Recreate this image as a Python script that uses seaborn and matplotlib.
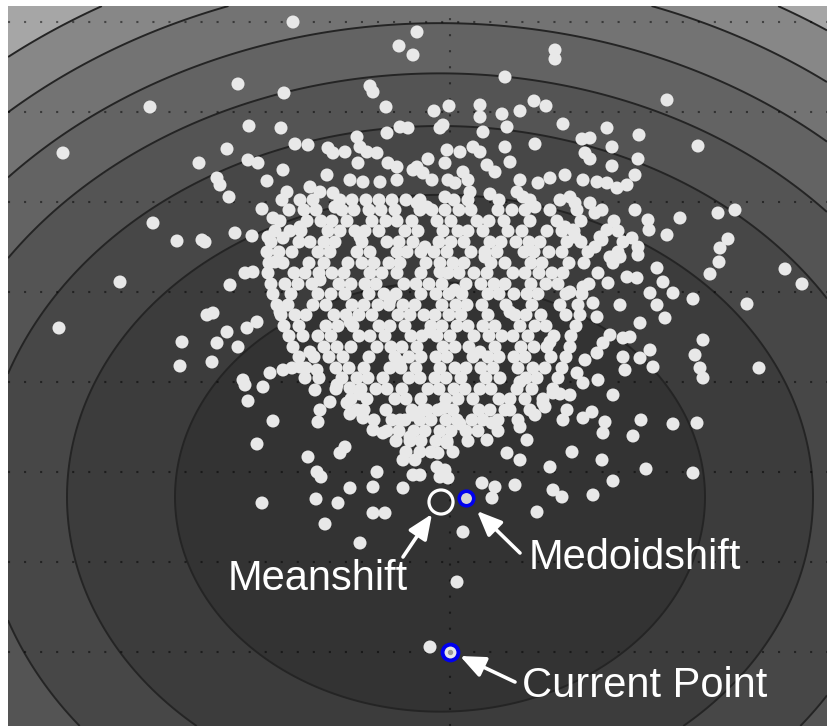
import numpy as np
import matplotlib
matplotlib.use("Agg")
import matplotlib.pyplot as plt
import seaborn as sns
import pandas as pd

# sample positions, measured from the current point (x right, y down)
pts_x = [-157, -33, -51, -37, -212, -166, -80, -77, -300, -64, -201, -169, -50, -42, -63, -93,
         -387, -223, -155, -142, -122, -117, -105, -90, -83, -73, -92, -62, -53, -251, -202, -192,
         -167, -37, -123, -233, -230, -183, -100, -87, -70, -53, -140, -130, -163, -168, -221, -117,
         -110, -188, -177, -297, -273, -248, -245, -215, -198, -182, -167, -330, -391, -220, -205, -197,
         -268, -243, -237, -223, -212, -233, -203, -193,
         105, 105, 55, 217, 248, -1, -16, 30, 30, 52, 57, 70, 84, 96, 113, 157, 189, -7, -10, 33, 85,
         132, 140, 162, 55, 60, 135, 140, 162, 188, -22, -3, 10, 23, 30, 37, 45, -5, -33, -27, -18, -2,
         5, 13, 18, 20, 70, 67, 73, 88, 100, 115, 133, 147, 157, 167, 177, 185, 120, 125, 140, 145, -33,
         -23, 185, 198, 199, 217, 230, 268, 285, 278, 270, 269, 260, 335, 352, 297, 243, 223, 213, 207,
         200, 207, 215, 190, 170, 177, 187, 182, 188, 188, 157, 152, 145, 158, 170, 253, 245, 133, 143,
         147, 160, 173, 180, 153, 147,
         250, 309, 123, 125, 200, 190, 203, 135, 173, 175, 148, 163, 120, 127, 133,
         191, 223, 247, 183, 155, 153, 152, 196, 243, 163, 253, 142, 133, 122, 103, 112, 143, 100, 77,
         57, 70, 65, 87, 37, 32, 45, 42, 13, 7, -20, -3, -12, -35, -30, -13, -5, -10, -2, -27, -7, 117,
         113, 85, 93, 60, 42, 103,
         -270, -238, -207, -205, -187, -202, -177, -193, -130, -132, -110, -105, -142, -133, -129, -73,
         -100, -77, -47, -188, -134, -112, -77, -65, -125, -90, -47, -37, -113, -100, -103, -93, -87,
         -77, -67, -50, -37, -180, -167, -150, -133]
pts_y = [-630, -620, -606, -597, -568, -559, -566, -560, -545, -545, -526, -524, -525, -524, -519, -515,
         -499, -503, -508, -507, -504, -499, -500, -505, -500, -499, -489, -489, -485, -489, -492, -489,
         -482, -482, -477, -474, -467, -471, -472, -470, -470, -472, -465, -460, -460, -452, -455, -459,
         -452, -443, -434, -429, -411, -412, -410, -419, -416, -415, -414, -370, -324, -367, -379, -380,
         -310, -337, -339, -320, -305, -309, -324, -330,
         -602, -593, -575, -552, -506, -546, -541, -547, -535, -538, -525, -541, -551, -546, -528, -524,
         -517, -527, -524, -520, -508, -513, -514, -505, -505, -490, -499, -493, -486, -493, -493, -502,
         -500, -505, -500, -487, -480, -489, -485, -479, -472, -472, -469, -480, -472, -460, -472, -460,
         -455, -469, -474, -477, -472, -470, -469, -464, -467, -477, -455, -449, -449, -439, -449, -445,
         -442, -432, -422, -417, -434, -439, -442, -413, -404, -390, -378, -383, -368, -348, -353, -359,
         -370, -384, -359, -347, -334, -329, -395, -375, -374, -414, -405, -397, -422, -412, -405, -369,
         -347, -312, -297, -365, -349, -335, -317, -314, -315, -309, -299,
         -284, -284, -422, -415, -302, -294, -285, -292, -295, -282, -272, -257, -257, -279, -269,
         -232, -228, -229, -216, -230, -219, -192, -183, -179, -171, -274, -240, -234, -200, -162, -155,
         -157, -185, -212, -199, -192, -167, -140, -212, -169, -165, -154, -120, -70, -5, -209, -199,
         -192, -177, -185, -182, -175, -174, -242, -244, -242, -232, -237, -249, -242, -229, -259,
         -286, -290, -272, -267, -265, -251, -231, -208, -242, -230, -199, -205, -195, -180, -175, -180,
         -164, -165, -164, -149, -153, -149, -139, -139, -128, -109, -192, -177, -267, -264, -249, -242,
         -234, -222, -219, -232, -237, -279, -282, -285, -282]

# the packed core of the cloud, read row by row
core_row_y = [-452, -442, -431, -421, -410, -400, -389, -379, -368, -358, -347, -337, -326,
              -316, -305, -295, -284, -274, -263, -253, -242, -232, -221, -211, -200]
core_row_x = [
    [-150, -137, -98, -84, -71, -58, -44, -30, 4, 18, 49, 80, 110],
    [-161, -146, -134, -108, -96, -81, -69, -55, -30, -18, -5, 9, 21, 48, 62, 75, 100, 127, 152],
    [-170, -143, -129, -118, -103, -78, -64, -53, -38, -13, 1, 27, 39, 54, 80, 107, 131, 164],
    [-175, -160, -149, -122, -110, -95, -85, -71, -45, -32, -7, 8, 18, 33, 58, 72, 97, 112, 124, 168],
    [-179, -151, -140, -126, -115, -88, -63, -51, -37, -11, 1, 14, 40, 51, 66, 79, 90, 117, 131, 173],
    [-183, -171, -158, -132, -120, -93, -80, -53, -43, -29, -16, -3, 21, 35, 47, 74, 84, 99, 112, 138,
     168],
    [-181, -167, -141, -126, -102, -88, -76, -61, -50, -24, -10, 3, 14, 41, 55, 81, 92, 119, 134, 163],
    [-182, -156, -145, -131, -118, -106, -80, -68, -53, -29, -2, 9, 24, 37, 63, 75, 89, 102, 113, 148],
    [-179, -165, -152, -138, -111, -99, -85, -74, -46, -34, -21, -8, 16, 31, 44, 55, 81, 96, 108, 139],
    [-177, -159, -132, -119, -105, -81, -66, -54, -29, -14, -1, 12, 38, 49, 64, 77, 88, 116, 132],
    [-173, -162, -137, -124, -98, -86, -72, -61, -47, -35, -8, 6, 17, 32, 56, 82, 110, 128],
    [-169, -155, -144, -116, -104, -91, -78, -52, -40, -26, -15, -1, 11, 38, 65, 76, 91, 116, 130],
    [-166, -151, -124, -112, -97, -71, -60, -45, -19, -8, 7, 18, 33, 45, 70, 85, 96, 126],
    [-161, -147, -132, -119, -91, -80, -65, -39, -28, -13, 0, 24, 39, 52, 63, 78, 104, 121],
    [-157, -126, -113, -99, -73, -59, -48, -33, -7, 5, 19, 45, 71, 84, 97, 120],
    [-151, -136, -121, -107, -81, -55, -41, -29, -14, -3, 23, 38, 49, 64, 75, 101, 116],
    [-158, -144, -114, -101, -86, -60, -49, -34, -10, 5, 16, 31, 43, 68, 83, 95, 112],
    [-145, -131, -108, -93, -82, -67, -41, -30, -15, -4, 11, 36, 50, 76, 87, 108],
    [-114, -89, -74, -63, -48, -22, -11, 4, 15, 30, 41, 67, 82, 103],
    [-99, -83, -55, -44, -29, -4, 8, 23, 49, 60, 75, 93],
    [-86, -64, -38, -23, -12, 3, 29, 40, 55, 80],
    [-76, -58, -45, -30, -19, -4, 7, 22, 33, 48, 68],
    [-63, -51, -36, -25, -10, 1, 16, 28, 48],
    [-54, -40, -29, -14, -3, 18],
    [-44, -30, -19, 3],
]
# stray points sitting between the core rows
fill_x = [-150, -90, -25, 35, 115, -130, -60, 5, 60, -100, -20, 100, -140, -50, 30, 70, -90, -5,
          10, -40, 150, 160, -175, 120, -170, -10, 85, -115, -5, 40, -120, -135, 95, 110, -100, 70]
fill_y = [-425, -415, -405, -395, -425, -372, -352, -362, -340, -330, -320, -310, -300, -290, -300,
          -270, -258, -245, -228, -215, -415, -395, -390, -360, -340, -380, -445, -445, -455, -458,
          -250, -262, -245, -258, -238, -225]

current_pt = (0, 0)
meanshift_pt = (-9, -150)
medoid_pt = (16, -154)

# kernel contours round the mean shift estimate
kernel_center = (-10, -155)
kernel_radii = [265, 373, 458, 523, 585, 642, 694]
kernel_aspect = 0.81
band_colors = ["#333333", "#3c3c3c", "#474747", "#545454", "#636363",
               "#737373", "#878787", "#a6a6a6"]

labels = ["Meanshift", "Medoidshift", "Current Point"]
label_pos = [(-222, -62), (79, -83), (72, 45)]
arrow_tail = [(-47, -95), (70, -99), (65, 30)]
arrow_tip = [(-18, -138), (27, -141), (10, 4)]

core_x = [x for row in core_row_x for x in row]
core_y = [y for y, row in zip(core_row_y, core_row_x) for _ in row]
df = pd.DataFrame({"x": pts_x + core_x + fill_x, "y": pts_y + core_y + fill_y})

sns.set_style("white")
plt.rcParams["font.family"] = ["Liberation Sans", "DejaVu Sans"]

fig = plt.figure(figsize=(8.27, 7.26), dpi=100)
ax = fig.add_axes([8 / 827, 0, 819 / 827, 720 / 726])
xlim = (-442, 377)
ylim = (74, -646)

gx, gy = np.meshgrid(np.linspace(xlim[0], xlim[1], 700), np.linspace(ylim[1], ylim[0], 620))
rr = np.sqrt((gx - kernel_center[0]) ** 2 + ((gy - kernel_center[1]) / kernel_aspect) ** 2)
lv = [0] + kernel_radii + [5000]
ax.contourf(gx, gy, rr, levels=lv, colors=band_colors, zorder=0)
ax.contour(gx, gy, rr, levels=kernel_radii, colors="#242424", linewidths=1.4, zorder=1)

sns.scatterplot(data=df, x="x", y="y", ax=ax, color="#e8e8e8", s=88, edgecolor="none",
                linewidth=0, zorder=3, legend=False)

# highlighted points
ax.scatter(*meanshift_pt, s=300, facecolor="none", edgecolor="white", linewidth=2.3, zorder=4)
ax.scatter(*medoid_pt, s=110, facecolor="#d4d4d4", edgecolor="#0000ee", linewidth=2.6, zorder=4)
ax.scatter(*current_pt, s=130, facecolor="#e8e8e8", edgecolor="#0000ee", linewidth=2.8, zorder=4)
ax.scatter(*current_pt, s=8, color="#9a9a9a", zorder=5)

for txt, pos, tail, tip in zip(labels, label_pos, arrow_tail, arrow_tip):
    ax.annotate("", xy=tip, xytext=tail,
                arrowprops=dict(arrowstyle="-|>,head_length=0.75,head_width=0.32", color="white",
                                lw=2.6, mutation_scale=20, shrinkA=0, shrinkB=0), zorder=6)
    ax.text(pos[0], pos[1], txt, color="white", fontsize=30, ha="left", va="baseline", zorder=6)

ax.set_xlim(*xlim)
ax.set_ylim(*ylim)
ax.set_xticks([0])
ax.set_yticks([-630, -540, -450, -360, -270, -180, -90, 0])
ax.set_axisbelow("line")
ax.grid(True, color="black", alpha=0.5, linestyle=(0, (1, 6.7)), linewidth=1.5)
ax.tick_params(length=0, labelbottom=False, labelleft=False)
ax.set_xlabel("")
ax.set_ylabel("")
for s in ax.spines.values():
    s.set_visible(False)

fig.savefig("out.png", dpi=100, facecolor="white")
